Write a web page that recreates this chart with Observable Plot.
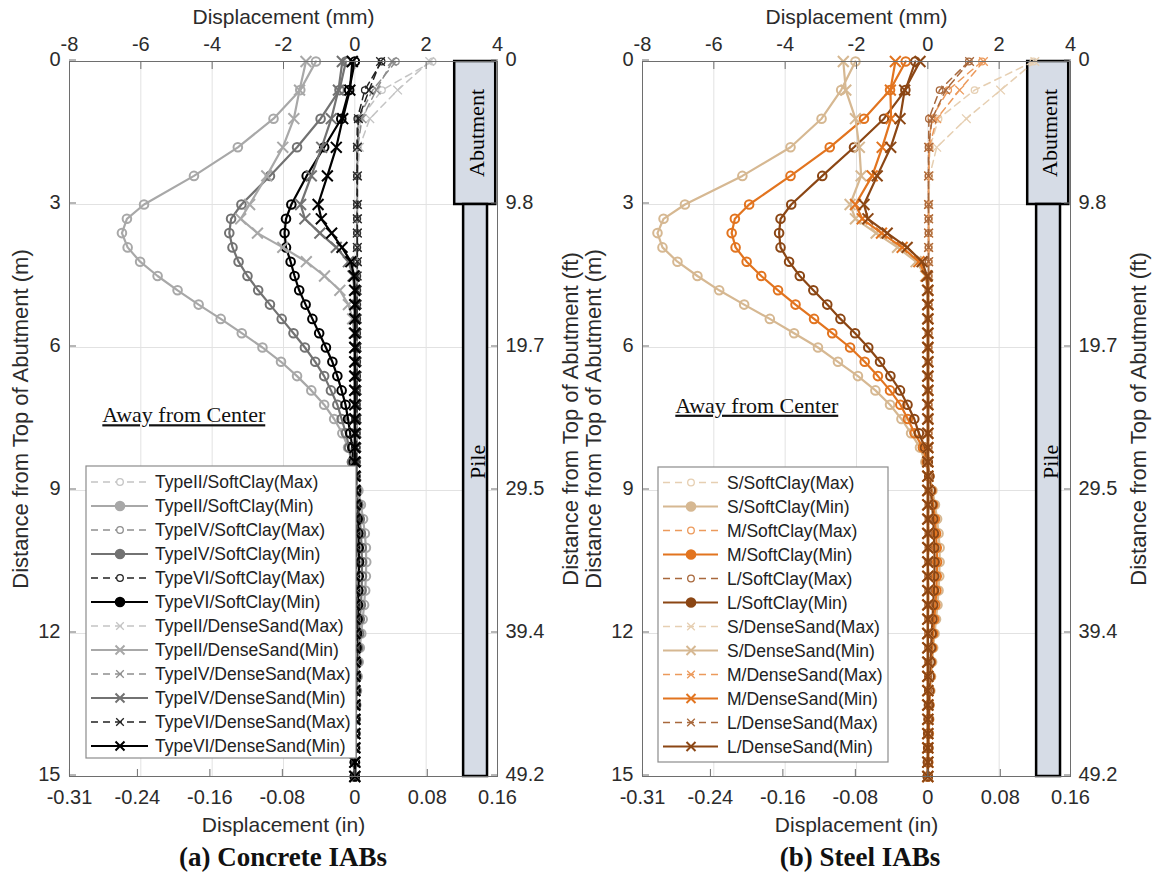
<!DOCTYPE html>
<html><head><meta charset="utf-8">
<script src="https://cdn.jsdelivr.net/npm/d3@7"></script>
<script src="https://cdn.jsdelivr.net/npm/@observablehq/plot@0.6"></script>
<style>
body{margin:0;background:#fff;}
#wrap{position:relative;width:1156px;height:879px;overflow:hidden;background:#fff;}
#wrap svg{position:absolute;left:0;top:0;}
.cap{position:absolute;top:844px;width:400px;font-family:"Liberation Serif","Times New Roman",serif;font-weight:bold;font-size:27px;line-height:27px;color:#111;text-align:center;white-space:nowrap}
</style></head><body>
<div id="wrap"></div>
<script>
// ---------- data ----------
const depth = [0, 0.6, 1.2, 1.8, 2.4, 3, 3.3, 3.6, 3.9, 4.2, 4.5, 4.8, 5.1, 5.4, 5.7, 6, 6.3, 6.6, 6.9, 7.2, 7.5, 7.8, 8.1, 8.4, 8.7, 9, 9.3, 9.6, 9.9, 10.2, 10.5, 10.8, 11.1, 11.4, 11.7, 12, 12.3, 12.6, 12.9, 13.2, 13.5, 13.8, 14.1, 14.4, 14.7, 15];

const mmTicks = [-8, -6, -4, -2, 0, 2, 4];
const mmLabels = ["-8", "-6", "-4", "-2", "0", "2", "4"];
const inTicks = [-0.315, -0.24, -0.16, -0.08, 0, 0.08, 0.1575];
const inLabels = ["-0.31", "-0.24", "-0.16", "-0.08", "0", "0.08", "0.16"];
const mTicks = [0, 3, 6, 9, 12, 15];
const mLabels = ["0", "3", "6", "9", "12", "15"];
const ftLabels = ["0", "9.8", "19.7", "29.5", "39.4", "49.2"];

const structNames = ["Abutment", "Pile"];
const structX1 = [2.8, 3.05];
const structX2 = [3.95, 3.72];
const structTop = [0, 3];
const structBottom = [3, 15];

const concreteNames = ["TypeII/SoftClay(Max)", "TypeII/SoftClay(Min)", "TypeIV/SoftClay(Max)", "TypeIV/SoftClay(Min)", "TypeVI/SoftClay(Max)", "TypeVI/SoftClay(Min)", "TypeII/DenseSand(Max)", "TypeII/DenseSand(Min)", "TypeIV/DenseSand(Max)", "TypeIV/DenseSand(Min)", "TypeVI/DenseSand(Max)", "TypeVI/DenseSand(Min)"];
const steelNames = ["S/SoftClay(Max)", "S/SoftClay(Min)", "M/SoftClay(Max)", "M/SoftClay(Min)", "L/SoftClay(Max)", "L/SoftClay(Min)", "S/DenseSand(Max)", "S/DenseSand(Min)", "M/DenseSand(Max)", "M/DenseSand(Min)", "L/DenseSand(Max)", "L/DenseSand(Min)"];

// Concrete IABs (mm)
const cII_SC_Max = [2.18, 0.76, 0.16, 0.08, 0.07, 0.07, 0.07, 0.07, 0.07, 0.07, 0.07, 0.07, 0.07, 0.07, 0.07, 0.07, 0.07, 0.06, 0.06, 0.06, 0.06, 0.06, 0.06, 0.06, 0.06, 0.06, 0.06, 0.06, 0.05, 0.05, 0.05, 0.05, 0.05, 0.05, 0.05, 0.05, 0.04, 0.04, 0.04, 0.04, 0.04, 0.04, 0.03, 0.03, 0.03, 0.03];
const cII_SC_Min = [-1.09, -1.53, -2.28, -3.28, -4.51, -5.91, -6.39, -6.53, -6.37, -6.02, -5.53, -4.97, -4.38, -3.76, -3.17, -2.59, -2.07, -1.62, -1.22, -0.86, -0.58, -0.35, -0.19, -0.08, 0.02, 0.1, 0.17, 0.23, 0.28, 0.31, 0.32, 0.31, 0.29, 0.26, 0.22, 0.18, 0.14, 0.11, 0.08, 0.06, 0.04, 0.03, 0.02, 0.01, 0.01, 0];
const cIV_SC_Max = [1.15, 0.5, 0.1, 0.07, 0.07, 0.07, 0.07, 0.07, 0.07, 0.07, 0.07, 0.07, 0.07, 0.06, 0.06, 0.06, 0.06, 0.06, 0.06, 0.06, 0.06, 0.06, 0.05, 0.05, 0.05, 0.05, 0.05, 0.05, 0.05, 0.05, 0.04, 0.04, 0.04, 0.04, 0.04, 0.04, 0.03, 0.03, 0.03, 0.03, 0.03, 0.03, 0.03, 0.02, 0.02, 0.02];
const cIV_SC_Min = [-0.25, -0.43, -0.96, -1.62, -2.38, -3.18, -3.47, -3.52, -3.43, -3.26, -3.01, -2.71, -2.38, -2.05, -1.72, -1.4, -1.11, -0.86, -0.67, -0.49, -0.37, -0.25, -0.16, -0.08, -0.01, 0.05, 0.1, 0.14, 0.17, 0.19, 0.2, 0.2, 0.19, 0.17, 0.14, 0.12, 0.09, 0.07, 0.05, 0.04, 0.03, 0.02, 0.01, 0.01, 0, 0];
const cVI_SC_Max = [0.75, 0.28, 0.07, 0.06, 0.06, 0.06, 0.06, 0.06, 0.06, 0.06, 0.06, 0.06, 0.06, 0.06, 0.06, 0.06, 0.06, 0.06, 0.05, 0.05, 0.05, 0.05, 0.05, 0.05, 0.05, 0.05, 0.05, 0.05, 0.04, 0.04, 0.04, 0.04, 0.04, 0.04, 0.04, 0.04, 0.03, 0.03, 0.03, 0.03, 0.03, 0.02, 0.02, 0.02, 0.02, 0.02];
const cVI_SC_Min = [0, -0.16, -0.38, -0.86, -1.35, -1.78, -1.93, -1.97, -1.93, -1.8, -1.69, -1.56, -1.38, -1.19, -1.0, -0.81, -0.63, -0.49, -0.37, -0.26, -0.19, -0.13, -0.07, -0.03, 0, 0.03, 0.06, 0.08, 0.1, 0.11, 0.12, 0.11, 0.1, 0.09, 0.08, 0.06, 0.05, 0.04, 0.03, 0.02, 0.02, 0.01, 0.01, 0, 0, 0];
const cII_DS_Max = [2.1, 1.2, 0.42, 0.13, 0.08, 0.08, 0.08, 0.07, 0.07, 0.07, 0.07, 0.07, 0.07, 0.07, 0.07, 0.07, 0.07, 0.07, 0.07, 0.06, 0.06, 0.06, 0.06, 0.06, 0.06, 0.06, 0.06, 0.05, 0.05, 0.05, 0.05, 0.05, 0.05, 0.05, 0.05, 0.04, 0.04, 0.04, 0.04, 0.04, 0.04, 0.03, 0.03, 0.03, 0.03, 0.03];
const cII_DS_Min = [-1.37, -1.55, -1.71, -2.02, -2.47, -2.95, -3.2, -2.73, -2.02, -1.36, -0.85, -0.42, -0.18, -0.06, -0.02, 0, 0, 0, 0, 0, 0, 0, 0, 0, 0.01, 0.01, 0.01, 0.01, 0.01, 0.01, 0.01, 0.01, 0.01, 0.01, 0.01, 0.01, 0, 0, 0, 0, 0, 0, 0, 0, 0, 0];
const cIV_DS_Max = [1.05, 0.6, 0.2, 0.08, 0.07, 0.07, 0.07, 0.07, 0.07, 0.07, 0.07, 0.07, 0.07, 0.07, 0.06, 0.06, 0.06, 0.06, 0.06, 0.06, 0.06, 0.06, 0.06, 0.05, 0.05, 0.05, 0.05, 0.05, 0.05, 0.05, 0.05, 0.05, 0.04, 0.04, 0.04, 0.04, 0.04, 0.04, 0.03, 0.03, 0.03, 0.03, 0.03, 0.03, 0.02, 0.02];
const cIV_DS_Min = [-0.35, -0.46, -0.66, -0.93, -1.22, -1.52, -1.4, -0.98, -0.52, -0.18, -0.05, -0.01, 0, 0, 0, 0, 0, 0, 0, 0, 0, 0, 0, 0, 0, 0.01, 0.01, 0.01, 0.01, 0.01, 0.01, 0.01, 0.01, 0.01, 0.01, 0, 0, 0, 0, 0, 0, 0, 0, 0, 0, 0];
const cVI_DS_Max = [0.72, 0.4, 0.1, 0.07, 0.07, 0.07, 0.07, 0.07, 0.07, 0.07, 0.06, 0.06, 0.06, 0.06, 0.06, 0.06, 0.06, 0.06, 0.06, 0.06, 0.06, 0.05, 0.05, 0.05, 0.05, 0.05, 0.05, 0.05, 0.05, 0.05, 0.05, 0.04, 0.04, 0.04, 0.04, 0.04, 0.04, 0.03, 0.03, 0.03, 0.03, 0.03, 0.02, 0.02, 0.02, 0.02];
const cVI_DS_Min = [-0.07, -0.14, -0.34, -0.52, -0.77, -1.03, -0.94, -0.65, -0.36, -0.11, -0.02, 0, 0, 0, 0, 0, 0, 0, 0, 0, 0, 0, 0, 0, 0, 0, 0, 0, 0, 0, 0, 0, 0, 0, 0, 0, 0, 0, 0, 0, 0, 0, 0, 0, 0, 0];

// Steel IABs (mm)
const sS_SC_Max = [2.96, 1.31, 0.3, 0.06, 0.03, 0.03, 0.03, 0.03, 0.03, 0.03, 0.03, 0.03, 0.03, 0.03, 0.03, 0.03, 0.03, 0.03, 0.03, 0.03, 0.03, 0.03, 0.03, 0.02, 0.02, 0.02, 0.02, 0.02, 0.02, 0.02, 0.02, 0.02, 0.02, 0.02, 0.02, 0.02, 0.02, 0.02, 0.01, 0.01, 0.01, 0.01, 0.01, 0.01, 0.01, 0.01];
const sS_SC_Min = [-2.03, -2.43, -2.98, -3.85, -5.2, -6.81, -7.41, -7.58, -7.44, -7.02, -6.46, -5.85, -5.15, -4.43, -3.75, -3.08, -2.52, -1.96, -1.47, -1.06, -0.74, -0.47, -0.22, -0.07, 0.05, 0.13, 0.2, 0.26, 0.3, 0.33, 0.33, 0.32, 0.3, 0.27, 0.23, 0.19, 0.15, 0.12, 0.09, 0.07, 0.05, 0.04, 0.03, 0.02, 0.01, 0];
const sM_SC_Max = [1.52, 0.57, 0.1, 0.03, 0.02, 0.02, 0.02, 0.02, 0.02, 0.02, 0.02, 0.02, 0.02, 0.02, 0.02, 0.02, 0.02, 0.02, 0.02, 0.02, 0.02, 0.02, 0.02, 0.02, 0.02, 0.02, 0.02, 0.02, 0.02, 0.02, 0.02, 0.02, 0.02, 0.02, 0.01, 0.01, 0.01, 0.01, 0.01, 0.01, 0.01, 0.01, 0.01, 0.01, 0.01, 0.01];
const sM_SC_Min = [-0.62, -1.06, -1.79, -2.75, -3.85, -5.01, -5.41, -5.5, -5.39, -5.08, -4.67, -4.2, -3.71, -3.19, -2.68, -2.18, -1.77, -1.4, -1.06, -0.77, -0.56, -0.37, -0.14, -0.03, 0.04, 0.1, 0.15, 0.2, 0.23, 0.25, 0.26, 0.25, 0.24, 0.21, 0.18, 0.15, 0.12, 0.09, 0.07, 0.05, 0.04, 0.03, 0.02, 0.01, 0.01, 0];
const sL_SC_Max = [1.15, 0.33, 0.03, 0.02, 0.02, 0.02, 0.02, 0.02, 0.02, 0.02, 0.02, 0.02, 0.02, 0.02, 0.02, 0.02, 0.02, 0.02, 0.02, 0.02, 0.02, 0.02, 0.02, 0.02, 0.02, 0.02, 0.02, 0.02, 0.02, 0.02, 0.01, 0.01, 0.01, 0.01, 0.01, 0.01, 0.01, 0.01, 0.01, 0.01, 0.01, 0.01, 0.01, 0.01, 0.01, 0.01];
const sL_SC_Min = [-0.35, -0.63, -1.23, -2.07, -2.96, -3.83, -4.13, -4.17, -4.13, -3.89, -3.59, -3.21, -2.82, -2.45, -2.04, -1.67, -1.34, -1.05, -0.78, -0.57, -0.38, -0.25, -0.08, 0, 0.04, 0.08, 0.12, 0.15, 0.17, 0.18, 0.19, 0.18, 0.17, 0.15, 0.13, 0.11, 0.09, 0.07, 0.05, 0.04, 0.03, 0.02, 0.01, 0.01, 0, 0];
const sS_DS_Max = [3.0, 2.04, 1.08, 0.25, 0.05, 0.03, 0.03, 0.03, 0.03, 0.03, 0.03, 0.03, 0.03, 0.03, 0.03, 0.03, 0.03, 0.03, 0.03, 0.03, 0.03, 0.03, 0.03, 0.03, 0.03, 0.03, 0.02, 0.02, 0.02, 0.02, 0.02, 0.02, 0.02, 0.02, 0.02, 0.02, 0.02, 0.02, 0.02, 0.02, 0.01, 0.01, 0.01, 0.01, 0.01, 0.01];
const sS_DS_Min = [-2.37, -2.3, -2.03, -1.92, -1.87, -2.18, -2.03, -1.45, -0.85, -0.33, -0.06, -0.01, 0, 0, 0, 0, 0, 0, 0, 0, 0, 0, 0, 0, 0, 0, 0, 0, 0, 0, 0, 0, 0, 0, 0, 0, 0, 0, 0, 0, 0, 0, 0, 0, 0, 0];
const sM_DS_Max = [1.56, 0.89, 0.25, 0.04, 0.02, 0.02, 0.02, 0.02, 0.02, 0.02, 0.02, 0.02, 0.02, 0.02, 0.02, 0.02, 0.02, 0.02, 0.02, 0.02, 0.02, 0.02, 0.02, 0.02, 0.02, 0.02, 0.02, 0.02, 0.02, 0.02, 0.02, 0.02, 0.02, 0.02, 0.02, 0.01, 0.01, 0.01, 0.01, 0.01, 0.01, 0.01, 0.01, 0.01, 0.01, 0.01];
const sM_DS_Min = [-0.91, -1.05, -1.03, -1.28, -1.56, -2.03, -1.84, -1.3, -0.72, -0.25, -0.04, 0, 0, 0, 0, 0, 0, 0, 0, 0, 0, 0, 0, 0, 0, 0, 0, 0, 0, 0, 0, 0, 0, 0, 0, 0, 0, 0, 0, 0, 0, 0, 0, 0, 0, 0];
const sL_DS_Max = [1.17, 0.5, 0.12, 0.02, 0.02, 0.02, 0.02, 0.02, 0.02, 0.02, 0.02, 0.02, 0.02, 0.02, 0.02, 0.02, 0.02, 0.02, 0.02, 0.02, 0.02, 0.02, 0.02, 0.02, 0.02, 0.02, 0.02, 0.02, 0.02, 0.01, 0.01, 0.01, 0.01, 0.01, 0.01, 0.01, 0.01, 0.01, 0.01, 0.01, 0.01, 0.01, 0.01, 0.01, 0.01, 0.01];
const sL_DS_Min = [-0.22, -0.65, -0.78, -1.04, -1.42, -1.79, -1.68, -1.14, -0.58, -0.16, -0.02, 0, 0, 0, 0, 0, 0, 0, 0, 0, 0, 0, 0, 0, 0, 0, 0, 0, 0, 0, 0, 0, 0, 0, 0, 0, 0, 0, 0, 0, 0, 0, 0, 0, 0, 0];

const concreteValues = [cII_SC_Max, cII_SC_Min, cIV_SC_Max, cIV_SC_Min, cVI_SC_Max, cVI_SC_Min, cII_DS_Max, cII_DS_Min, cIV_DS_Max, cIV_DS_Min, cVI_DS_Max, cVI_DS_Min];
const steelValues = [sS_SC_Max, sS_SC_Min, sM_SC_Max, sM_SC_Min, sL_SC_Max, sL_SC_Min, sS_DS_Max, sS_DS_Min, sM_DS_Max, sM_DS_Min, sL_DS_Max, sL_DS_Min];

// ---------- styles ----------
const concreteColors = ["#c4c4c4", "#a8a8a8", "#8e8e8e", "#727272", "#222222", "#000000", "#c4c4c4", "#a8a8a8", "#8e8e8e", "#727272", "#222222", "#000000"];
const steelColors = ["#e6cfb2", "#d6b892", "#ec9a5c", "#e2741f", "#a8683c", "#8b4614", "#e6cfb2", "#d6b892", "#ec9a5c", "#e2741f", "#a8683c", "#8b4614"];

const W = 1156, H = 840;
const textCol = "#2b2b2b";
const inTicksMm = inTicks.map(v => v * 25.4);
const structRows = structNames.map((n, i) => ({name: n, x1: structX1[i], x2: structX2[i], top: structTop[i], bottom: structBottom[i]}));
const structLabelY = [1.5, 8.4];

function makePanel(cfg) {
  const marks = [
    Plot.gridX(mmTicks, {stroke: "#e2e2e2", strokeOpacity: 1}),
    Plot.gridY(mTicks, {stroke: "#e2e2e2", strokeOpacity: 1}),
    Plot.rect(structRows, {x1: "x1", x2: "x2", y1: "top", y2: "bottom", fill: "#d6dce6", stroke: "#000", strokeWidth: 2.5})
  ];
  cfg.names.forEach((n, i) => {
    const rows = depth.map((d, j) => ({s: n, depth: d, disp: cfg.values[i][j]}));
    const isMax = n.includes("(Max)");
    const isSand = n.includes("DenseSand");
    const col = cfg.colors[i];
    marks.push(Plot.line(rows, {x: "disp", y: "depth", stroke: col, strokeWidth: isMax ? 1.5 : 2.2, strokeDasharray: isMax ? "7,5" : null}));
    marks.push(Plot.dot(rows, {x: "disp", y: "depth", stroke: col, fill: "none", symbol: isSand ? "times" : "circle", r: isSand ? (isMax ? 4 : 5) : (isMax ? 3.3 : 4.3), strokeWidth: isMax ? 1.3 : 2}));
  });
  marks.push(
    Plot.text(structRows, {x: d => (d.x1 + d.x2) / 2, y: (d, i) => structLabelY[i], text: "name", rotate: -90, dx: 2, fontFamily: "'Liberation Serif','Times New Roman',serif", fontSize: 22, fill: "#000"}),
    Plot.text(["Away from Center"], {x: () => -7.08, y: () => cfg.awayY, text: d => d, textAnchor: "start", fontFamily: "'Liberation Serif','Times New Roman',serif", fontSize: 22, fill: "#111"}),
    Plot.frame({stroke: "#6e6e6e", strokeWidth: 1}),
    Plot.axisX({anchor: "top", ticks: mmTicks, tickFormat: d => mmLabels[mmTicks.indexOf(d)], tickSize: -7, tickPadding: 18, label: null, fontSize: 20, fill: textCol, stroke: "#6e6e6e"}),
    Plot.axisX({anchor: "bottom", ticks: inTicksMm, tickFormat: d => inLabels[inTicksMm.indexOf(d)], tickSize: -7, tickPadding: 20, label: null, fontSize: 20, fill: textCol, stroke: "#6e6e6e"}),
    Plot.axisY({anchor: "left", ticks: mTicks, tickFormat: d => mLabels[mTicks.indexOf(d)], tickSize: -7, tickPadding: 16, dy: -1.5, label: null, fontSize: 20, fill: textCol, stroke: "#6e6e6e"}),
    Plot.axisY({anchor: "right", ticks: mTicks, tickFormat: d => ftLabels[mTicks.indexOf(d)], tickSize: -7, tickPadding: 15, dy: -1.5, label: null, fontSize: 20, fill: textCol, stroke: "#6e6e6e"}),
    Plot.text(["Displacement (mm)"], {frameAnchor: "top", dy: -44, text: d => d, textAnchor: "middle", lineAnchor: "middle", fontSize: 21, fill: textCol}),
    Plot.text(["Displacement (in)"], {frameAnchor: "bottom", dy: 49, text: d => d, textAnchor: "middle", lineAnchor: "middle", fontSize: 21, fill: textCol}),
    Plot.text(["Distance from Top of Abutment (m)"], {frameAnchor: "left", dx: -49, rotate: -90, text: d => d, textAnchor: "middle", lineAnchor: "middle", fontSize: 22, fill: textCol}),
    Plot.text(["Distance from Top of Abutment (ft)"], {frameAnchor: "right", dx: cfg.ftDx, rotate: -90, text: d => d, textAnchor: "middle", lineAnchor: "middle", fontSize: 22, fill: textCol})
  );
  const svg = Plot.plot({
    width: W, height: H,
    marginTop: 61, marginBottom: 64, marginLeft: cfg.ml, marginRight: cfg.mr,
    x: {domain: [-8, 4]},
    y: {domain: [0, 15], reverse: true},
    style: {fontFamily: "'Liberation Sans', Arial, sans-serif", fontSize: "20px", background: "transparent", overflow: "visible"},
    marks
  });
  svg.querySelectorAll("text").forEach(t => { if (t.textContent === "Away from Center") t.style.textDecoration = "underline"; });
  return svg;
}

const wrap = document.getElementById("wrap");
wrap.appendChild(makePanel({names: concreteNames, values: concreteValues, colors: concreteColors, ml: 69, mr: W - 497, awayY: 7.42, ftDx: 73}));
wrap.appendChild(makePanel({names: steelNames, values: steelValues, colors: steelColors, ml: 642, mr: W - 1070, awayY: 7.22, ftDx: 68}));

// ---------- legends ----------
const leg = d3.select(wrap).append("svg").attr("width", W).attr("height", H).style("pointer-events", "none");
function drawLegend(box, names, colors) {
  const g = leg.append("g");
  g.append("rect").attr("x", box.x).attr("y", box.y).attr("width", box.w).attr("height", box.h)
    .attr("fill", "#fff").attr("stroke", "#8c8c8c").attr("stroke-width", 1.2);
  names.forEach((n, i) => {
    const y = box.row0 + i * 24;
    const isMax = n.includes("(Max)");
    const isSand = n.includes("DenseSand");
    const col = colors[i];
    g.append("line").attr("x1", box.s1).attr("x2", box.s2).attr("y1", y).attr("y2", y)
      .attr("stroke", col).attr("stroke-width", isMax ? 1.5 : 2.2).attr("stroke-dasharray", isMax ? "7,5" : null);
    if (isSand) {
      const r = isMax ? 3.8 : 4.5;
      g.append("path").attr("d", `M${box.mk - r},${y - r}L${box.mk + r},${y + r}M${box.mk - r},${y + r}L${box.mk + r},${y - r}`)
        .attr("stroke", col).attr("stroke-width", isMax ? 1.3 : 2).attr("fill", "none");
    } else {
      g.append("circle").attr("cx", box.mk).attr("cy", y).attr("r", isMax ? 3.3 : 4.3)
        .attr("stroke", col).attr("stroke-width", isMax ? 1.3 : 2).attr("fill", isMax ? "#fff" : col);
    }
    g.append("text").attr("x", box.tx).attr("y", y).attr("dy", "0.35em").text(n)
      .attr("font-family", "'Liberation Sans', Arial, sans-serif").attr("font-size", 17.5).attr("fill", "#222");
  });
}
drawLegend({x: 86, y: 466, w: 270, h: 292, row0: 482, s1: 91, s2: 148, mk: 120, tx: 155}, concreteNames, concreteColors);
drawLegend({x: 658, y: 467, w: 230, h: 295, row0: 482.5, s1: 663, s2: 718, mk: 691, tx: 727}, steelNames, steelColors);

// ---------- captions ----------
const capA = document.createElement("div"); capA.className = "cap"; capA.style.left = (283 - 200) + "px"; capA.textContent = "(a) Concrete IABs"; wrap.appendChild(capA);
const capB = document.createElement("div"); capB.className = "cap"; capB.style.left = (860 - 200) + "px"; capB.textContent = "(b) Steel IABs"; wrap.appendChild(capB);
</script>
</body></html>
